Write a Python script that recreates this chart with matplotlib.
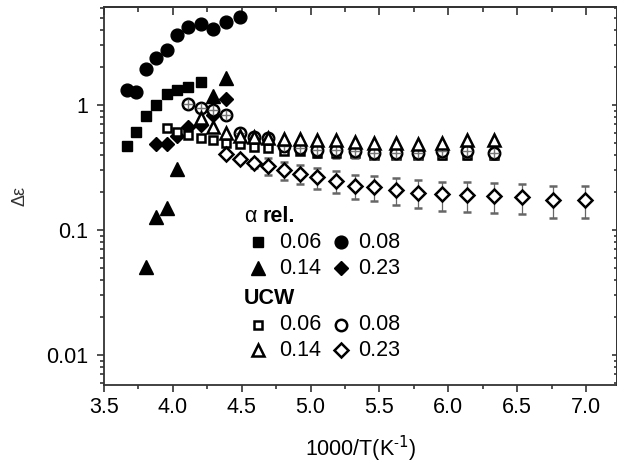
import matplotlib
matplotlib.use("Agg")
import matplotlib.pyplot as plt
from matplotlib.ticker import MultipleLocator, FixedLocator, FuncFormatter, LogLocator

plt.rcParams["font.family"] = ["Liberation Sans", "DejaVu Sans"]

# alpha relaxation strength (filled symbols)
a06_x = [3.665, 3.732, 3.805, 3.877, 3.955, 4.028, 4.112, 4.202]
a06_y = [0.47, 0.61, 0.81, 1.00, 1.22, 1.33, 1.39, 1.54]
a08_x = [3.665, 3.732, 3.805, 3.877, 3.955, 4.028, 4.112, 4.202, 4.294, 4.384, 4.488]
a08_y = [1.33, 1.28, 1.94, 2.36, 2.75, 3.63, 4.19, 4.45, 4.03, 4.64, 5.03]
a14_x = [3.805, 3.877, 3.955, 4.028, 4.294, 4.384]
a14_y = [0.051, 0.128, 0.149, 0.31, 1.19, 1.64]
a23_x = [3.877, 3.955, 4.028, 4.112, 4.202, 4.294, 4.384]
a23_y = [0.49, 0.49, 0.56, 0.67, 0.69, 0.83, 1.11]

# UCW relaxation strength (open symbols)
u06_x = [3.955, 4.028, 4.112, 4.202, 4.294, 4.384, 4.488, 4.589, 4.693, 4.807,
         4.926, 5.050, 5.181, 5.319, 5.464, 5.618, 5.780, 5.952, 6.135, 6.329]
u06_y = [0.65, 0.61, 0.575, 0.54, 0.525, 0.50, 0.49, 0.465, 0.45, 0.43,
         0.425, 0.415, 0.41, 0.41, 0.40, 0.40, 0.40, 0.40, 0.40, 0.40]
u06_e = [0.0, 0.0, 0.0, 0.0, 0.0, 0.0, 0.01, 0.01, 0.02, 0.02,
         0.02, 0.03, 0.03, 0.03, 0.03, 0.03, 0.03, 0.03, 0.03, 0.03]
u08_x = [4.112, 4.202, 4.294, 4.384, 4.488, 4.589, 4.693, 4.807, 4.926, 5.050,
         5.181, 5.319, 5.464, 5.618, 5.780, 5.952, 6.135, 6.329]
u08_y = [1.02, 0.94, 0.92, 0.83, 0.60, 0.555, 0.54, 0.47, 0.45, 0.44,
         0.435, 0.425, 0.41, 0.41, 0.41, 0.43, 0.43, 0.415]
u08_e = [0.0, 0.0, 0.0, 0.0, 0.01, 0.01, 0.02, 0.02, 0.03, 0.03,
         0.04, 0.04, 0.04, 0.04, 0.04, 0.04, 0.04, 0.04]
u14_x = [4.202, 4.294, 4.384, 4.488, 4.589, 4.693, 4.807, 4.926, 5.050, 5.181,
         5.319, 5.464, 5.618, 5.780, 5.952, 6.135, 6.329]
u14_y = [0.78, 0.67, 0.595, 0.565, 0.555, 0.545, 0.53, 0.53, 0.525, 0.52,
         0.51, 0.50, 0.50, 0.49, 0.50, 0.525, 0.525]
u23_x = [4.384, 4.488, 4.589, 4.693, 4.807, 4.926, 5.050, 5.181, 5.319, 5.464,
         5.618, 5.780, 5.952, 6.135, 6.329, 6.536, 6.757, 6.993]
u23_y = [0.405, 0.37, 0.342, 0.325, 0.302, 0.283, 0.264, 0.248, 0.226, 0.22,
         0.209, 0.199, 0.193, 0.19, 0.187, 0.184, 0.175, 0.174]
u23_e = [0.01, 0.015, 0.03, 0.05, 0.05, 0.05, 0.05, 0.05, 0.05, 0.05,
         0.05, 0.05, 0.05, 0.05, 0.05, 0.05, 0.05, 0.05]

x_ticks = [3.5, 4.0, 4.5, 5.0, 5.5, 6.0, 6.5, 7.0]
y_ticks = [0.01, 0.1, 1]

W, H = 617, 468
fig = plt.figure(figsize=(W / 100, H / 100), dpi=100)
ax = fig.add_axes([104 / W, 1 - 385 / H, (W - 104) / W, (385 - 6.7) / H])
ax.set_yscale("log")
ax.set_xlim(3.5, 7.225)
ax.set_ylim(0.00575, 6.115)

ebar = dict(ls="none", ecolor="#666666", elinewidth=0.9, capsize=3, capthick=0.9)
mew = 1.8

# filled: alpha relaxation
ax.plot(a06_x, a06_y, "s", ms=7.3, color="black", zorder=3)
ax.plot(a08_x, a08_y, "o", ms=9.2, color="black", zorder=3)
ax.plot(a14_x, a14_y, "^", ms=9.6, color="black", zorder=3)
ax.plot(a23_x, a23_y, "D", ms=7.4, color="black", zorder=3)

# open: UCW
ax.errorbar(u06_x, u06_y, yerr=u06_e, fmt="s", ms=6.2, mfc="white", mec="black",
            mew=mew, zorder=4, **ebar)
ax.errorbar(u08_x, u08_y, yerr=u08_e, fmt="o", ms=8.2, mfc="white", mec="black",
            mew=mew, zorder=5, **ebar)
ax.plot(u08_x, u08_y, "+", ms=7, color="#777777", mew=1.0, zorder=5.1)
ax.plot(u14_x, u14_y, "^", ms=9.2, mfc="white", mec="black", mew=mew, zorder=6)
ax.errorbar(u23_x, u23_y, yerr=u23_e, fmt="D", ms=7.4, mfc="white", mec="black",
            mew=mew, zorder=4, **ebar)

# axes styling
spine_c = "#333333"
for s in ax.spines.values():
    s.set_color(spine_c)
    s.set_linewidth(1.3)
ax.xaxis.set_major_locator(FixedLocator(x_ticks))
ax.xaxis.set_minor_locator(MultipleLocator(0.25))
ax.xaxis.set_major_formatter(FuncFormatter(lambda v, p: "%.1f" % v))
ax.yaxis.set_major_locator(FixedLocator(y_ticks))
ax.yaxis.set_minor_locator(LogLocator(base=10, subs=range(2, 10)))
ax.yaxis.set_major_formatter(FuncFormatter(lambda v, p: "%g" % v))
ax.tick_params(which="both", direction="out", color=spine_c, width=1.2,
               labelsize=15.5, top=False, right=False)
ax.tick_params(which="major", length=5.3, pad=3)
ax.tick_params(which="minor", length=3.1)
ax.tick_params(axis="y", which="major", pad=6)

secx = ax.secondary_xaxis("top")
secx.xaxis.set_major_locator(FixedLocator(x_ticks))
secx.xaxis.set_minor_locator(MultipleLocator(0.25))
secx.tick_params(which="both", direction="in", labeltop=False, color=spine_c, width=1.2)
secx.tick_params(which="major", length=5.8)
secx.tick_params(which="minor", length=3.6)
secy = ax.secondary_yaxis("right")
secy.yaxis.set_major_locator(FixedLocator(y_ticks))
secy.yaxis.set_minor_locator(LogLocator(base=10, subs=range(2, 10)))
secy.tick_params(which="both", direction="in", labelright=False, color=spine_c, width=1.2)
for sa in (secx, secy):
    for s in sa.spines.values():
        s.set_color(spine_c)
        s.set_linewidth(1.3)

ax.set_xlabel("1000/T(K$^{\\mathregular{\u2010}1}$)", fontsize=15.5, labelpad=12)
ax.set_ylabel("\u0394\u03b5", fontsize=13, color="#333333", labelpad=13)


# legend drawn by hand in pixel coordinates
def fp(x, y):
    return x / W, 1 - y / H


leg_txt = dict(fontsize=15.5, va="center", ha="left")
fig.text(*fp(244, 216), "\u03b1", **leg_txt)
fig.text(*fp(263, 216), "rel.", fontweight="bold", **leg_txt)
fig.text(*fp(244, 298), "UCW", fontweight="bold", **leg_txt)

rows = [
    (242, ("s", 7.3, "black"), "0.06", ("o", 9.2, "black"), "0.08"),
    (268, ("^", 9.6, "black"), "0.14", ("D", 7.4, "black"), "0.23"),
    (325, ("s", 6.2, "white"), "0.06", ("o", 8.2, "white"), "0.08"),
    (350, ("^", 9.2, "white"), "0.14", ("D", 7.4, "white"), "0.23"),
]
for y, m1, t1, m2, t2 in rows:
    for mx, (mk, ms, fc), tx, t in ((258, m1, 279, t1), (341, m2, 358, t2)):
        fig.lines.append(plt.Line2D([mx / W], [1 - y / H], marker=mk, ms=ms, mfc=fc,
                                    mec="black", mew=mew if fc == "white" else 1.0,
                                    transform=fig.transFigure))
        fig.text(*fp(tx, y), t, **leg_txt)

fig.savefig("out.png", dpi=100)
